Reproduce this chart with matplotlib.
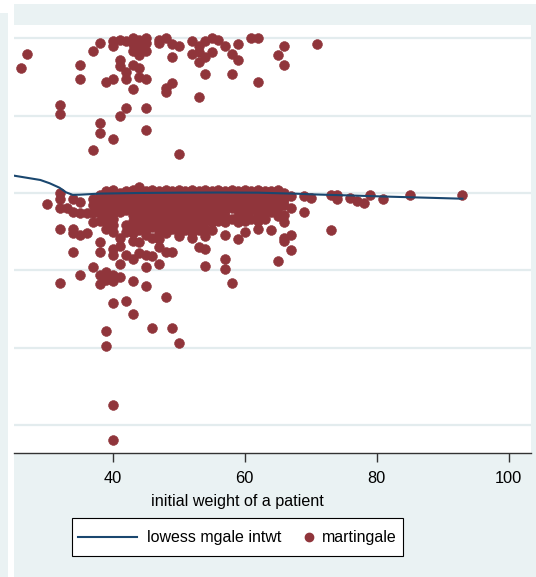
import matplotlib
matplotlib.use("Agg")
import matplotlib.pyplot as plt
from matplotlib.patches import Rectangle
from matplotlib.lines import Line2D

plt.rcParams['font.family'] = ['Liberation Sans', 'DejaVu Sans']

# --- colours (Stata s2color look) ---
BG = '#eaf2f3'
GRID = '#e3ecee'
NAVY = '#1a476f'
MAROON = '#90353b'

# --- data: martingale residuals vs initial weight ---
# upper group (events)
up_wt = [26, 27, 32, 32, 35, 35, 37, 37, 38, 38, 38, 39,
         40, 40, 40, 40, 41, 41, 41, 41, 42, 42, 42, 42,
         43, 43, 43, 43, 43, 44, 44, 44, 44, 44,
         45, 45, 45, 45, 45, 45, 47, 47, 48, 48, 48, 49, 49, 49,
         50, 50, 52, 52, 53, 53, 53, 53, 54, 54, 54, 55, 55, 56, 57,
         58, 58, 59, 59, 61, 62, 62, 65, 66, 66, 71]
up_mg = [0.81, 0.90, 0.57, 0.51, 0.83, 0.74, 0.92, 0.28, 0.97, 0.45, 0.39, 0.72,
         0.98, 0.95, 0.74, 0.35, 0.99, 0.86, 0.82, 0.50, 0.98, 0.78, 0.74, 0.55,
         1.00, 0.96, 0.92, 0.83, 0.67, 0.99, 0.94, 0.89, 0.81, 0.75,
         1.00, 0.97, 0.92, 0.74, 0.55, 0.41, 0.99, 0.97, 1.00, 0.68, 0.65, 0.96, 0.88, 0.71,
         0.95, 0.25, 0.98, 0.90, 0.95, 0.91, 0.85, 0.62, 0.98, 0.88, 0.77, 1.00, 0.91, 0.99, 0.95,
         0.90, 0.77, 0.96, 0.86, 1.00, 1.00, 0.72, 0.89, 0.95, 0.83, 0.96]

# central band (censored, close to zero)
band_wt = ([30] + [32] * 4 + [33] + [34] * 3 + [35] * 2 + [36] * 2 + [37] * 4 + [38] * 5
           + [39] * 7 + [40] * 8 + [41] * 4 + [42] * 6 + [43] * 8 + [44] * 8 + [45] * 8
           + [46] * 7 + [47] * 8 + [48] * 8 + [49] * 7 + [50] * 8 + [51] * 7 + [52] * 8
           + [53] * 7 + [54] * 7 + [55] * 7 + [56] * 6 + [57] * 6 + [58] * 5 + [59] * 6
           + [60] * 6 + [61] * 5 + [62] * 6 + [63] * 5 + [64] * 4 + [65] * 5 + [66] * 5
           + [67] * 2 + [69] * 2 + [70] + [73] * 2 + [74] * 2
           + [76, 77, 78, 79, 81, 85, 93])
band_mg = [-0.07,
           0.00, -0.04, -0.10, -0.23,
           -0.10,
           -0.04, -0.12, -0.23,
           -0.06, -0.13,
           -0.13, -0.26,
           -0.04, -0.08, -0.13, -0.19,
           -0.01, -0.05, -0.09, -0.13, -0.18,
           0.01, -0.02, -0.06, -0.10, -0.14, -0.19, -0.23,
           0.02, -0.01, -0.05, -0.09, -0.13, -0.17, -0.21, -0.25,
           0.00, -0.04, -0.08, -0.12,
           0.01, -0.03, -0.07, -0.11, -0.21, -0.25,
           0.02, -0.02, -0.06, -0.10, -0.14, -0.18, -0.22, -0.26,
           0.04, 0.00, -0.04, -0.08, -0.12, -0.16, -0.20, -0.24,
           0.01, -0.03, -0.07, -0.11, -0.15, -0.19, -0.23, -0.27,
           0.02, -0.02, -0.06, -0.10, -0.14, -0.18, -0.22,
           0.01, -0.03, -0.07, -0.11, -0.15, -0.19, -0.23, -0.26,
           0.02, -0.02, -0.06, -0.10, -0.14, -0.18, -0.22, -0.26,
           0.01, -0.03, -0.07, -0.11, -0.15, -0.19, -0.23,
           0.02, -0.02, -0.06, -0.10, -0.14, -0.18, -0.22, -0.26,
           0.01, -0.03, -0.07, -0.11, -0.15, -0.19, -0.24,
           0.02, -0.02, -0.06, -0.10, -0.14, -0.18, -0.22, -0.26,
           0.01, -0.03, -0.07, -0.11, -0.15, -0.20, -0.24,
           0.02, -0.02, -0.06, -0.10, -0.14, -0.18, -0.23,
           0.01, -0.03, -0.07, -0.11, -0.15, -0.19, -0.24,
           0.02, -0.02, -0.06, -0.10, -0.14, -0.18,
           0.01, -0.03, -0.07, -0.11, -0.15, -0.19,
           0.02, -0.02, -0.06, -0.10, -0.17,
           0.01, -0.03, -0.07, -0.11, -0.15, -0.19,
           0.02, -0.02, -0.06, -0.10, -0.14, -0.18,
           0.01, -0.03, -0.07, -0.11, -0.17,
           0.02, -0.02, -0.06, -0.10, -0.14, -0.18,
           0.01, -0.03, -0.07, -0.12, -0.17,
           0.01, -0.03, -0.07, -0.12,
           0.02, -0.02, -0.06, -0.10, -0.15,
           0.00, -0.04, -0.08, -0.14, -0.19,
           -0.02, -0.10,
           -0.02, -0.12,
           -0.03,
           -0.015, -0.24,
           -0.015, -0.04,
           -0.03, -0.05, -0.065, -0.015, -0.04, -0.015, -0.01]

# lower tail
low_wt = [32, 34, 34, 35, 35, 37, 38, 38, 38, 38, 39, 39, 39, 39,
          40, 40, 40, 40, 40, 40, 40, 41, 41, 41, 41, 42, 42, 43, 43, 43, 43,
          44, 44, 45, 45, 45, 46, 46, 46, 47, 47, 47, 48, 48, 49, 49, 50, 50,
          52, 53, 54, 54, 54, 57, 57, 57, 58, 59, 60, 62, 64, 65, 66, 66, 67, 67]
low_mg = [-0.58, -0.26, -0.38, -0.27, -0.53, -0.48, -0.32, -0.38, -0.53, -0.59,
          -0.51, -0.56, -0.89, -0.99,
          -0.36, -0.40, -0.53, -0.57, -0.71, -1.37, -1.60, -0.29, -0.34, -0.46, -0.54,
          -0.40, -0.70, -0.31, -0.43, -0.57, -0.78,
          -0.32, -0.39, -0.40, -0.48, -0.60, -0.29, -0.41, -0.87, -0.30, -0.35, -0.46,
          -0.38, -0.67, -0.38, -0.87, -0.28, -0.97,
          -0.29, -0.35, -0.28, -0.36, -0.47, -0.27, -0.43, -0.49, -0.58, -0.30, -0.25,
          -0.23, -0.24, -0.44, -0.29, -0.31, -0.27, -0.37]

# lowess smooth
lowess_wt = [25.0, 29.0, 30.4, 31.9, 32.9, 33.9, 35.0, 38.0, 44, 50, 56, 62, 68, 71, 76, 82, 88, 93]
lowess_fit = [0.112, 0.084, 0.063, 0.034, 0.004, -0.012, -0.011, -0.004, 0.0, 0.002, 0.003,
              0.002, -0.005, -0.010, -0.016, -0.024, -0.031, -0.037]

x_ticks = [40, 60, 80, 100]
y_grid = [1, 0.5, 0, -0.5, -1, -1.5]

W, H = 536, 577
fig = plt.figure(figsize=(W / 100, H / 100), dpi=100)

# --- background (cropped Stata graph region) ---
fig.add_artist(Rectangle((0, 0), 8 / W, (H - 13) / H, transform=fig.transFigure,
                         facecolor=BG, edgecolor='none', zorder=0))
fig.add_artist(Rectangle((14 / W, 0), (W - 14) / W, (H - 4) / H, transform=fig.transFigure,
                         facecolor=BG, edgecolor='none', zorder=0))

ax = fig.add_axes([14 / W, (H - 453) / H, 517 / W, 428 / H])
ax.set_facecolor('white')
ax.set_xlim(25.0, 103.4)
ax.set_ylim(-1.681, 1.086)

all_wt = up_wt + band_wt + low_wt
all_mg = up_mg + band_mg + low_mg
ax.scatter(all_wt, all_mg, s=50, color=MAROON, edgecolors=MAROON, linewidths=0.4, zorder=2)
ax.plot(lowess_wt, lowess_fit, color=NAVY, lw=1.5, zorder=3)

ax.set_yticks(y_grid)
ax.tick_params(axis='y', length=0, labelleft=False)
ax.grid(axis='y', color=GRID, lw=1.6, zorder=0)
ax.set_axisbelow(True)

ax.set_xticks(x_ticks)
ax.tick_params(axis='x', direction='out', length=6.5, width=1, color='#333333',
               labelsize=11.8, pad=6.5)
for s in ['top', 'left', 'right']:
    ax.spines[s].set_visible(False)
ax.spines['bottom'].set_color('#333333')
ax.spines['bottom'].set_linewidth(1)

fig.text(237 / W, (H - 501.5) / H, 'initial weight of a patient', ha='center', va='center',
         fontsize=11.6)

# --- legend box ---
ly = (H - 537.3) / H
fig.add_artist(Rectangle((71.7 / W, (H - 556) / H), 331 / W, 37.7 / H, transform=fig.transFigure,
                         facecolor='white', edgecolor='black', lw=0.8, zorder=1))
fig.add_artist(Line2D([78 / W, 137 / W], [ly, ly], transform=fig.transFigure,
                      color=NAVY, lw=1.5, zorder=2))
fig.text(146.7 / W, ly, 'lowess mgale intwt', ha='left', va='center', fontsize=11.5, zorder=2)
fig.add_artist(Line2D([309.3 / W], [ly], transform=fig.transFigure, marker='o', ms=6,
                      color=MAROON, ls='none', zorder=2))
fig.text(321.7 / W, ly, 'martingale', ha='left', va='center', fontsize=11.5, zorder=2)

fig.savefig('out.png', dpi=100)
